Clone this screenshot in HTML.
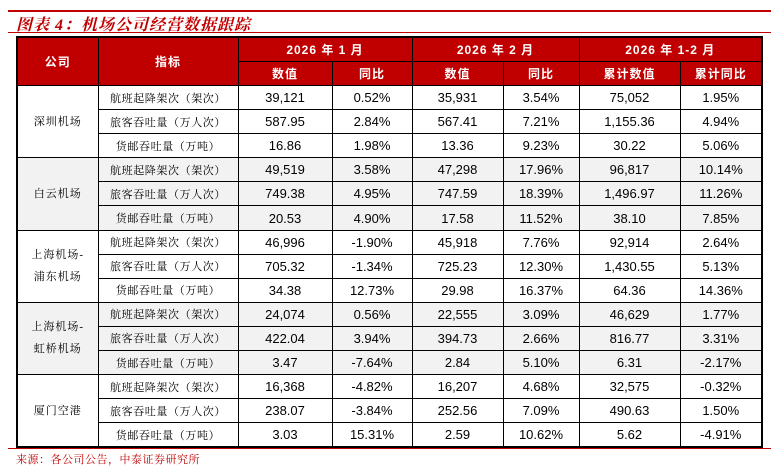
<!DOCTYPE html>
<html><head><meta charset="utf-8">
<style>
body{margin:0;width:771px;height:471px;background:#fff;position:relative;overflow:hidden;font-family:"Liberation Sans","Noto Sans CJK SC",sans-serif;}
.line{position:absolute;left:8px;width:763px;background:#c00000;}
#title{position:absolute;left:16px;top:12px;font:italic bold 16px "Liberation Serif","Noto Serif CJK SC",serif;color:#c00000;letter-spacing:1px;}
table{position:absolute;left:16px;top:36px;width:745px;border-collapse:collapse;border:2px solid #000;table-layout:fixed;}
td,th{border:1px solid #000;text-align:center;padding:0;font-size:13px;color:#000;white-space:nowrap;overflow:hidden;}
th{background:#c00000;color:#fff;font-weight:bold;height:23px;font-size:12px;letter-spacing:1px;}
td{height:23.1px;}
td.co{font-family:"Liberation Serif","Noto Serif CJK SC",serif;font-size:11px;letter-spacing:1px;line-height:22px;}
td.ind{font-family:"Liberation Serif","Noto Serif CJK SC",serif;font-size:11px;letter-spacing:0.6px;}
tr.g td{background:#f2f2f2;}
#src{position:absolute;left:16px;top:451px;font:11px "Liberation Serif","Noto Serif CJK SC",serif;color:#c00000;letter-spacing:0.5px;}
</style></head><body>
<div class="line" style="top:10px;height:2px"></div>
<div id="title">图表 4：机场公司经营数据跟踪</div>
<div class="line" style="top:32px;height:1px"></div>
<table>
<colgroup><col style="width:81px"><col style="width:140px"><col style="width:94px"><col style="width:80px"><col style="width:91px"><col style="width:76px"><col style="width:101px"><col style="width:82px"></colgroup>
<tr><th rowspan="2">公司</th><th rowspan="2">指标</th><th colspan="2">2026 年 1 月</th><th colspan="2">2026 年 2 月</th><th colspan="2">2026 年 1-2 月</th></tr>
<tr><th>数值</th><th>同比</th><th>数值</th><th>同比</th><th>累计数值</th><th>累计同比</th></tr>
<tr><td class="co" rowspan="3">深圳机场</td><td class="ind">航班起降架次（架次）</td><td>39,121</td><td>0.52%</td><td>35,931</td><td>3.54%</td><td>75,052</td><td>1.95%</td></tr>
<tr><td class="ind">旅客吞吐量（万人次）</td><td>587.95</td><td>2.84%</td><td>567.41</td><td>7.21%</td><td>1,155.36</td><td>4.94%</td></tr>
<tr><td class="ind">货邮吞吐量（万吨）</td><td>16.86</td><td>1.98%</td><td>13.36</td><td>9.23%</td><td>30.22</td><td>5.06%</td></tr>
<tr class="g"><td class="co" rowspan="3">白云机场</td><td class="ind">航班起降架次（架次）</td><td>49,519</td><td>3.58%</td><td>47,298</td><td>17.96%</td><td>96,817</td><td>10.14%</td></tr>
<tr class="g"><td class="ind">旅客吞吐量（万人次）</td><td>749.38</td><td>4.95%</td><td>747.59</td><td>18.39%</td><td>1,496.97</td><td>11.26%</td></tr>
<tr class="g"><td class="ind">货邮吞吐量（万吨）</td><td>20.53</td><td>4.90%</td><td>17.58</td><td>11.52%</td><td>38.10</td><td>7.85%</td></tr>
<tr><td class="co" rowspan="3">上海机场-<br>浦东机场</td><td class="ind">航班起降架次（架次）</td><td>46,996</td><td>-1.90%</td><td>45,918</td><td>7.76%</td><td>92,914</td><td>2.64%</td></tr>
<tr><td class="ind">旅客吞吐量（万人次）</td><td>705.32</td><td>-1.34%</td><td>725.23</td><td>12.30%</td><td>1,430.55</td><td>5.13%</td></tr>
<tr><td class="ind">货邮吞吐量（万吨）</td><td>34.38</td><td>12.73%</td><td>29.98</td><td>16.37%</td><td>64.36</td><td>14.36%</td></tr>
<tr class="g"><td class="co" rowspan="3">上海机场-<br>虹桥机场</td><td class="ind">航班起降架次（架次）</td><td>24,074</td><td>0.56%</td><td>22,555</td><td>3.09%</td><td>46,629</td><td>1.77%</td></tr>
<tr class="g"><td class="ind">旅客吞吐量（万人次）</td><td>422.04</td><td>3.94%</td><td>394.73</td><td>2.66%</td><td>816.77</td><td>3.31%</td></tr>
<tr class="g"><td class="ind">货邮吞吐量（万吨）</td><td>3.47</td><td>-7.64%</td><td>2.84</td><td>5.10%</td><td>6.31</td><td>-2.17%</td></tr>
<tr><td class="co" rowspan="3">厦门空港</td><td class="ind">航班起降架次（架次）</td><td>16,368</td><td>-4.82%</td><td>16,207</td><td>4.68%</td><td>32,575</td><td>-0.32%</td></tr>
<tr><td class="ind">旅客吞吐量（万人次）</td><td>238.07</td><td>-3.84%</td><td>252.56</td><td>7.09%</td><td>490.63</td><td>1.50%</td></tr>
<tr><td class="ind">货邮吞吐量（万吨）</td><td>3.03</td><td>15.31%</td><td>2.59</td><td>10.62%</td><td>5.62</td><td>-4.91%</td></tr>
</table>
<div class="line" style="top:448px;height:1px"></div>
<div id="src">来源：各公司公告，中泰证券研究所</div>
</body></html>
